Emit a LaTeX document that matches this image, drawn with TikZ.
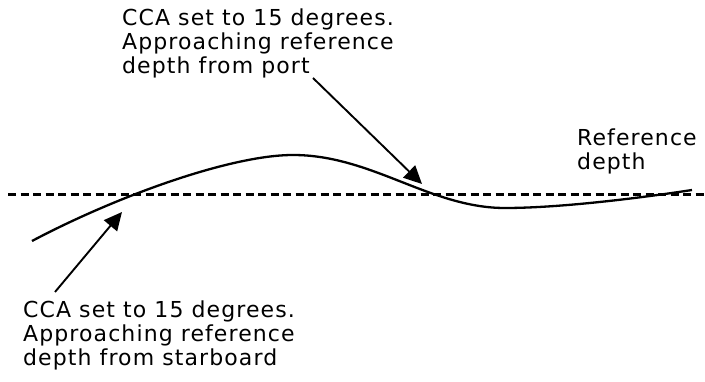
\documentclass[tikz,border=0pt]{standalone}
\usepackage{fontspec}
\setmainfont{DejaVu Sans}[LetterSpace=5]
\usetikzlibrary{arrows.meta}

\begin{document}
\begin{tikzpicture}[x=1pt, y=-1pt, >={Triangle[length=18pt,width=17pt]},
  every node/.style={font=\fontsize{22}{24}\selectfont, inner sep=0pt, align=left}]

\useasboundingbox (0,0) rectangle (705,382);

% Labels
\node[anchor=north west] at (122,9) (porttext) {CCA set to 15 degrees.\\Approaching reference\\depth from port};
\node[anchor=north west] at (23,301) (starboardtext) {CCA set to 15 degrees.\\Approaching reference\\depth from starboard};
\node[anchor=north west] at (577,129) (reftext) {Reference\\depth};

% Reference depth
\coordinate (refleft) at (8,194.5);
\coordinate (refright) at (705,194.5);
\draw[line width=2.2pt, dash pattern=on 8pt off 4.5pt] (refleft) -- (refright);

% Depth curve
\draw[line width=2.3pt] (32,241) .. controls (115,197) and (230,155) .. (293,155)
  .. controls (372,155) and (430,208) .. (505,208)
  .. controls (560,208) and (640,198) .. (692,190);

% Arrows
\coordinate (portstart) at (313,78);
\coordinate (porttip) at (422,184);
\coordinate (starboardstart) at (55,292);
\coordinate (starboardtip) at (122,212);
\draw[->, line width=1.9pt] (portstart) -- (porttip);
\draw[->, line width=1.9pt] (starboardstart) -- (starboardtip);

\end{tikzpicture}
\end{document}
